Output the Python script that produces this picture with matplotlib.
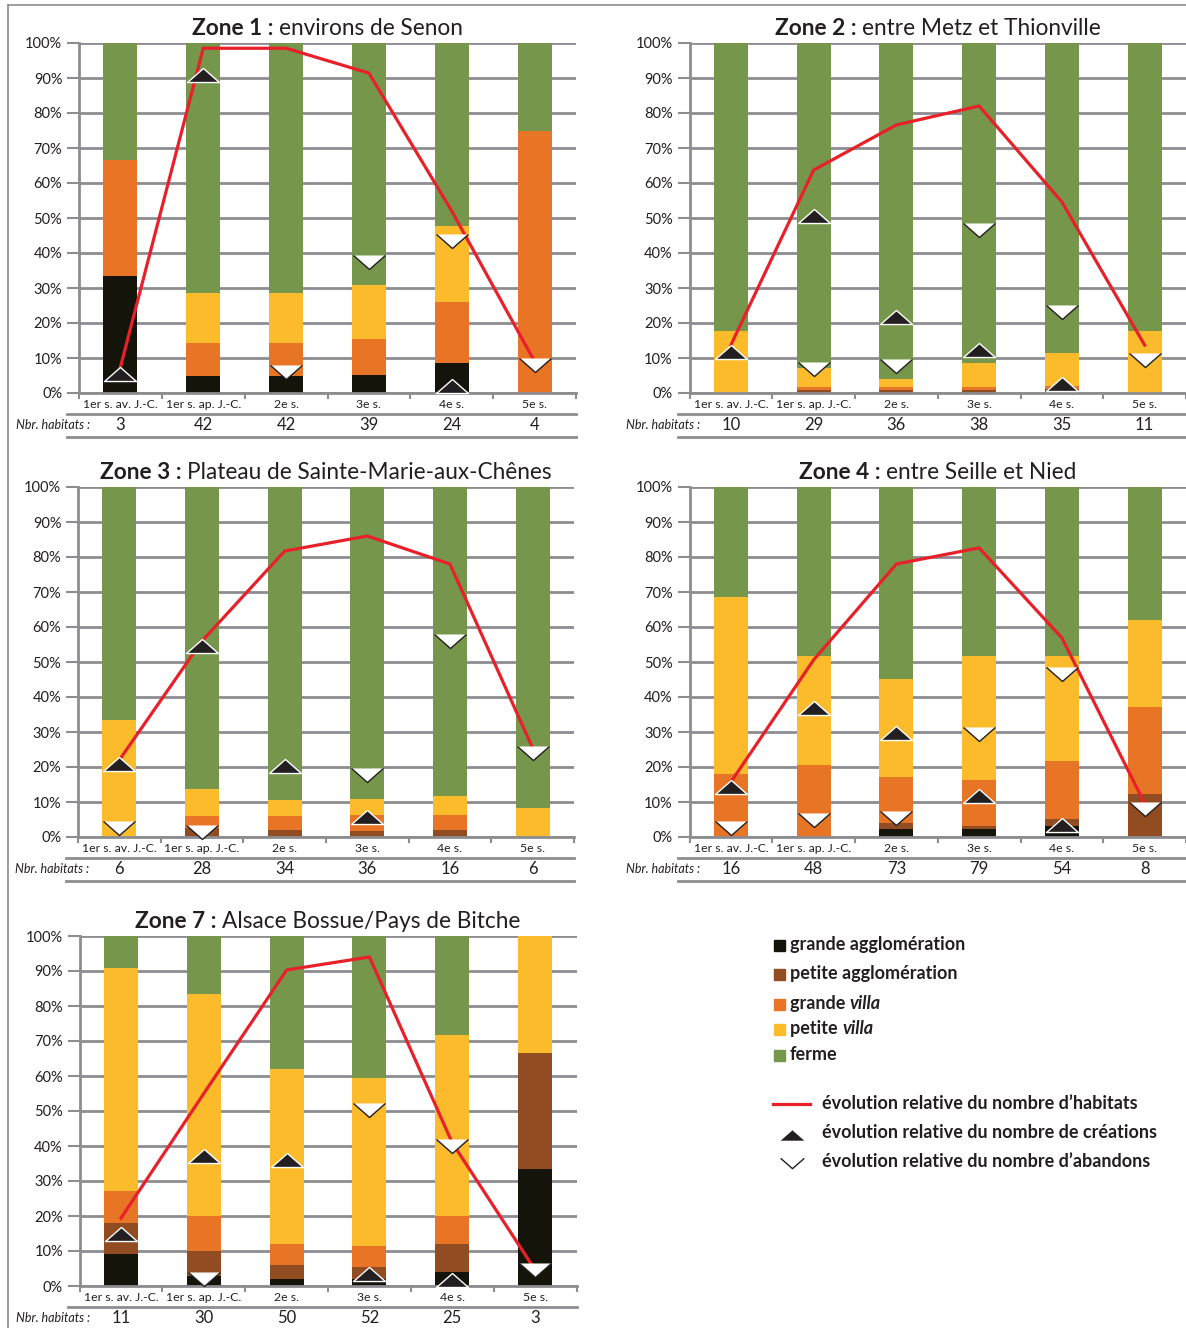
import numpy as np
import matplotlib
matplotlib.use("Agg")
import matplotlib.pyplot as plt
from matplotlib.path import Path
from matplotlib.patches import Rectangle

plt.rcParams['font.family'] = ['Lato', 'DejaVu Sans']

W, H = 1186, 1328

PERIODS = ['1er s. av. J.-C.', '1er s. ap. J.-C.', '2e s.', '3e s.', '4e s.', '5e s.']
TYPES = ['grande agglomération', 'petite agglomération', 'grande villa', 'petite villa', 'ferme']
COLORS = ['#15140a', '#924c22', '#e87425', '#fbbb2b', '#76964b']
RED = '#e8202a'
GRID = '#8d8c91'
DARK = '#231f20'

# --- Zone 1 : environs de Senon
z1_ga = [33.3, 4.8, 4.8, 5.1, 8.7, 0]
z1_pa = [0, 0, 0, 0, 0, 0]
z1_gv = [33.3, 9.5, 9.5, 10.3, 17.4, 75]
z1_pv = [0, 14.3, 14.3, 15.4, 21.7, 0]
z1_fe = [33.4, 71.4, 71.4, 69.2, 52.2, 25]
z1_line = [7.4, 98.5, 98.5, 91.4, 52, 9]
z1_up = [5.5, 90.8, None, None, 2.0, None]
z1_down = [None, None, 6.0, 37.4, 43.4, 8.0]
z1_n = [3, 42, 42, 39, 24, 4]

# --- Zone 2 : entre Metz et Thionville
z2_ga = [0, 0, 0, 0, 0, 0]
z2_pa = [0, 1.0, 1.0, 1.0, 1.1, 0]
z2_gv = [0, 0.8, 0.7, 0.7, 0.9, 0]
z2_pv = [17.8, 5.4, 2.3, 7.0, 9.5, 17.8]
z2_fe = [82.2, 92.8, 96.0, 91.3, 88.5, 82.2]
z2_line = [13.7, 63.7, 76.6, 82, 54.6, 13.7]
z2_up = [11.8, 50.6, 21.8, 12.3, 2.5, None]
z2_down = [None, 6.8, 7.7, 46.6, 23.2, 9.4]
z2_n = [10, 29, 36, 38, 35, 11]

# --- Zone 3 : Plateau de Sainte-Marie-aux-Chênes
z3_ga = [0, 0, 0, 0, 0, 0]
z3_pa = [0, 2.7, 2.0, 1.7, 2.0, 0]
z3_gv = [0, 3.3, 4.0, 4.6, 4.3, 0]
z3_pv = [33.3, 7.7, 4.6, 4.6, 5.4, 8.3]
z3_fe = [66.7, 86.3, 89.4, 89.1, 88.3, 91.7]
z3_line = [22, 56, 81.7, 86, 78, 25.4]
z3_up = [20.9, 54.6, 20.3, 5.8, None, None]
z3_down = [2.5, 1.5, None, 17.7, 56.0, 23.9]
z3_n = [6, 28, 34, 36, 16, 6]

# --- Zone 4 : entre Seille et Nied
z4_ga = [0, 0, 2.4, 2.4, 3.1, 0]
z4_pa = [0, 0, 1.5, 0.7, 2.1, 12.3]
z4_gv = [18.0, 20.6, 13.3, 13.2, 16.5, 24.8]
z4_pv = [50.6, 31.1, 27.9, 35.4, 30.0, 24.9]
z4_fe = [31.4, 48.3, 54.9, 48.3, 48.3, 38.0]
z4_line = [15.7, 50.6, 78, 82.6, 56.9, 9.6]
z4_up = [14.2, 36.9, 29.7, 11.7, 3.4, None]
z4_down = [2.5, 4.9, 5.3, 29.4, 46.6, 7.9]
z4_n = [16, 48, 73, 79, 54, 8]

# --- Zone 7 : Alsace Bossue/Pays de Bitche
z7_ga = [9.1, 2.9, 2.1, 1.9, 4.1, 33.3]
z7_pa = [9.0, 7.1, 3.9, 3.6, 7.9, 33.4]
z7_gv = [9.0, 10.1, 6.0, 5.9, 8.1, 0]
z7_pv = [63.8, 63.3, 50.0, 48.0, 51.6, 33.3]
z7_fe = [9.1, 16.6, 38.0, 40.6, 28.3, 0]
z7_line = [19.4, 55, 90.3, 94, 40.9, 4.6]
z7_up = [14.8, 37.1, 36.0, 3.4, 1.7, None]
z7_down = [None, 1.9, None, 50.3, 40.0, 4.6]
z7_n = [11, 30, 50, 52, 25, 3]

# flattened triangle markers
UP = Path([(-1, -0.44), (1, -0.44), (0, 0.44), (-1, -0.44)],
          [Path.MOVETO, Path.LINETO, Path.LINETO, Path.CLOSEPOLY])
DOWN = Path([(-1, 0.44), (1, 0.44), (0, -0.44), (-1, 0.44)],
            [Path.MOVETO, Path.LINETO, Path.LINETO, Path.CLOSEPOLY])
VEE = Path([(-1, 0.44), (0, -0.44), (1, 0.44)],
           [Path.MOVETO, Path.LINETO, Path.LINETO])

fig = plt.figure(figsize=(W / 100, H / 100), dpi=100)
ov = fig.add_axes([0, 0, 1, 1], zorder=-1)
ov.set_xlim(0, W)
ov.set_ylim(H, 0)
ov.axis('off')
renderer = fig.canvas.get_renderer()

# thin frame
ov.plot([8, W], [5, 5], color=GRID, lw=1.2)
ov.plot([8, 8], [5, H], color=GRID, lw=1.2)


def mixed_text(x, y, parts, size, ha='center'):
    # parts: list of (text, weight, style)
    items = []
    for s, wgt, sty in parts:
        t = ov.text(0, y, s, fontsize=size, fontweight=wgt, fontstyle=sty,
                    color=DARK, va='baseline')
        items.append(t)
    widths = [t.get_window_extent(renderer).width for t in items]
    x0 = x - sum(widths) / 2 if ha == 'center' else x
    for t, w in zip(items, widths):
        t.set_x(x0)
        x0 += w


def draw_panel(left, top, right, bottom, title, stacks, line, up, down, counts):
    ax = fig.add_axes([left / W, 1 - bottom / H, (right - left) / W, (bottom - top) / H])
    ax.set_facecolor('none')
    x = np.arange(6) + 0.5
    base = np.zeros(6)
    for vals, col in zip(stacks, COLORS):
        vals = np.array(vals, dtype=float)
        ax.bar(x, vals, 0.41, bottom=base, color=col, zorder=2)
        base += vals
    ax.plot(x, line, color=RED, lw=2.3, zorder=3, solid_joinstyle='miter')

    ux = [xi for xi, v in zip(x, up) if v is not None]
    uy = [v for v in up if v is not None]
    ax.plot(ux, uy, ls='none', marker=UP, ms=23, mfc=DARK, mec='white', mew=1.0,
            zorder=4, clip_on=False)
    dx = [xi for xi, v in zip(x, down) if v is not None]
    dy = [v for v in down if v is not None]
    ax.plot(dx, dy, ls='none', marker=DOWN, ms=23, mfc='white', mec='none',
            zorder=4, clip_on=False)
    ax.plot(dx, dy, ls='none', marker=VEE, ms=23, mfc='none', mec=DARK, mew=1.0,
            zorder=5, clip_on=False)

    ax.set_xlim(0, 6)
    ax.set_ylim(0, 100)
    ax.set_yticks(np.arange(0, 101, 10))
    ax.set_yticklabels([f'{v}%' for v in range(0, 101, 10)])
    ax.yaxis.grid(True, color=GRID, lw=2)
    ax.set_axisbelow(True)
    ax.tick_params(axis='y', length=9, width=1.5, color=GRID, labelsize=10.5,
                   pad=3, labelcolor=DARK)
    ax.set_xticks(np.arange(7))
    ax.set_xticklabels([])
    ax.tick_params(axis='x', which='major', length=4.5, width=1.5, color=GRID)
    ax.set_xticks(x, minor=True)
    ax.set_xticklabels(PERIODS, minor=True)
    ax.tick_params(axis='x', which='minor', length=0, pad=4, labelsize=8.8,
                   labelcolor=DARK)
    for s in ['top', 'right']:
        ax.spines[s].set_visible(False)
    for s in ['left', 'bottom']:
        ax.spines[s].set_color(GRID)
        ax.spines[s].set_linewidth(2)

    # table rows below the axis
    ov.plot([left - 12, right], [bottom + 21, bottom + 21], color=GRID, lw=2)
    ov.plot([left - 12, right], [bottom + 44, bottom + 44], color=GRID, lw=2)
    ov.text(left + 11, bottom + 32, 'Nbr. habitats :', fontsize=9, fontstyle='italic',
            ha='right', va='center', color=DARK)
    step = (right - left) / 6
    for i, n in enumerate(counts):
        ov.text(left + (i + 0.5) * step, bottom + 32, str(n), fontsize=12,
                ha='center', va='center', color=DARK)

    head, rest = title
    mixed_text((left + right) / 2, top - 8,
               [(head, 'bold', 'normal'), (rest, 'normal', 'normal')], 16.3)


draw_panel(79, 43, 576, 393, ('Zone 1 : ', 'environs de Senon'),
           [z1_ga, z1_pa, z1_gv, z1_pv, z1_fe], z1_line, z1_up, z1_down, z1_n)
draw_panel(689.5, 43, 1186, 393, ('Zone 2 : ', 'entre Metz et Thionville'),
           [z2_ga, z2_pa, z2_gv, z2_pv, z2_fe], z2_line, z2_up, z2_down, z2_n)
draw_panel(78, 487, 574, 837, ('Zone 3 : ', 'Plateau de Sainte-Marie-aux-Chênes'),
           [z3_ga, z3_pa, z3_gv, z3_pv, z3_fe], z3_line, z3_up, z3_down, z3_n)
draw_panel(689.5, 487, 1186, 837, ('Zone 4 : ', 'entre Seille et Nied'),
           [z4_ga, z4_pa, z4_gv, z4_pv, z4_fe], z4_line, z4_up, z4_down, z4_n)
draw_panel(79.6, 936, 576.5, 1286, ('Zone 7 : ', 'Alsace Bossue/Pays de Bitche'),
           [z7_ga, z7_pa, z7_gv, z7_pv, z7_fe], z7_line, z7_up, z7_down, z7_n)

# legend
leg_y = [945, 974, 1004, 1029, 1055]
for name, col, yc in zip(TYPES, COLORS, leg_y):
    ov.add_patch(Rectangle((774, yc - 5.5), 11, 11, color=col))
    if name.endswith('villa'):
        mixed_text(790, yc + 5, [(name[:-5], 'bold', 'normal'), ('villa', 'bold', 'italic')],
                   13, ha='left')
    else:
        ov.text(790, yc + 5, name, fontsize=13, fontweight='bold', color=DARK, va='baseline')

ov.plot([773, 810], [1104, 1104], color=RED, lw=2.3)
ov.plot([792], [1135], marker=UP, ms=17, mfc=DARK, mec='none', ls='none')
ov.plot([792], [1163], marker=VEE, ms=17, mfc='none', mec=DARK, mew=1.0, ls='none')
for yc, s in zip([1104, 1133, 1162], ['évolution relative du nombre d’habitats',
                                       'évolution relative du nombre de créations',
                                       'évolution relative du nombre d’abandons']):
    ov.text(822, yc + 5, s, fontsize=13, fontweight='bold', color=DARK, va='baseline')

fig.savefig('out.png', dpi=100)
